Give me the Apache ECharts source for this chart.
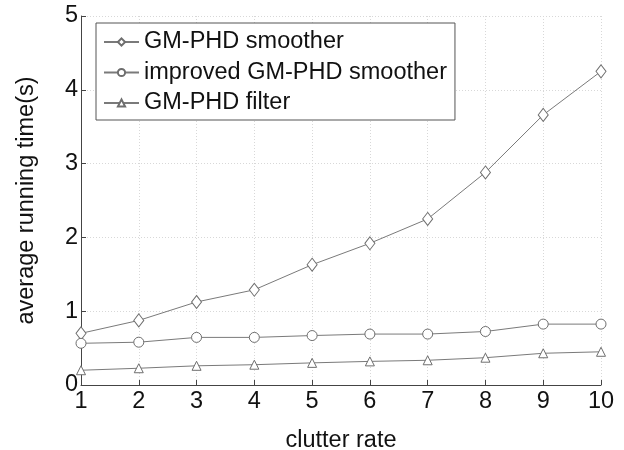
<!DOCTYPE html>
<html>
<head>
<meta charset="utf-8">
<script src="https://cdn.jsdelivr.net/npm/echarts@6/dist/echarts.min.js"></script>
<style>html,body{margin:0;padding:0;background:#fff}#c{width:624px;height:450px}</style>
</head>
<body>
<div id="c"></div>
<script>
var clutterRate = [1, 2, 3, 4, 5, 6, 7, 8, 9, 10];
var gmphdSmoother = [0.70, 0.875, 1.125, 1.29, 1.63, 1.92, 2.25, 2.88, 3.66, 4.25];
var improvedSmoother = [0.565, 0.58, 0.645, 0.645, 0.67, 0.69, 0.69, 0.725, 0.825, 0.825];
var gmphdFilter = [0.20, 0.227, 0.26, 0.275, 0.30, 0.32, 0.335, 0.37, 0.43, 0.45];
var seriesNames = ['GM-PHD smoother', 'improved GM-PHD smoother', 'GM-PHD filter'];

function pairs(ys) { return clutterRate.map(function (x, i) { return [x, ys[i]]; }); }

var FONT = '"Liberation Sans", Arial, sans-serif';
var lineColor = '#7a7a7a';
function mk(name, data, symbol, size) {
  return {
    name: name, type: 'line', data: pairs(data),
    symbol: symbol, symbolSize: size, showSymbol: true,
    lineStyle: { color: lineColor, width: 1 },
    itemStyle: { color: '#ffffff', borderColor: '#6e6e6e', borderWidth: 1 },
    emphasis: { disabled: true }
  };
}

var chart = echarts.init(document.getElementById('c'), null, { renderer: 'canvas' });
chart.setOption({
  animation: false,
  backgroundColor: '#ffffff',
  textStyle: { fontFamily: FONT },
  grid: { left: 81, right: 23, top: 16, bottom: 65, containLabel: false, outerBoundsMode: 'none' },
  legend: {
    orient: 'vertical', left: 96, top: 23,
    padding: [7, 8, 5, 7],
    backgroundColor: '#ffffff',
    borderColor: '#555555', borderWidth: 1, borderRadius: 0,
    itemWidth: 35, itemHeight: 9, itemGap: 6.5,
    textStyle: { fontFamily: FONT, fontSize: 23.5, color: '#111111', lineHeight: 24, padding: [0, 0, 0, 0] },
    data: seriesNames
  },
  xAxis: {
    type: 'value', min: 1, max: 10, interval: 1,
    name: 'clutter rate', nameLocation: 'middle', nameGap: 44,
    nameTextStyle: { fontFamily: FONT, fontSize: 23.5, color: '#111111' },
    axisLine: { show: true, lineStyle: { color: '#444444', width: 1 } },
    axisTick: { show: true, inside: true, length: 5, lineStyle: { color: '#444444' } },
    axisLabel: { fontFamily: FONT, fontSize: 23.5, color: '#111111', margin: 5 },
    splitLine: { show: true, lineStyle: { color: '#d8d8d8', type: [1, 2], width: 1 } }
  },
  yAxis: {
    type: 'value', min: 0, max: 5, interval: 1,
    name: 'average running time(s)', nameLocation: 'middle', nameGap: 42,
    nameTextStyle: { fontFamily: FONT, fontSize: 23.5, color: '#111111' },
    axisLine: { show: true, lineStyle: { color: '#444444', width: 1 } },
    axisTick: { show: true, inside: true, length: 5, lineStyle: { color: '#444444' } },
    axisLabel: { fontFamily: FONT, fontSize: 23.5, color: '#111111', margin: 3 },
    splitLine: { show: true, lineStyle: { color: '#d8d8d8', type: [1, 2], width: 1 } }
  },
  series: [
    mk(seriesNames[0], gmphdSmoother, 'diamond', [10, 13]),
    mk(seriesNames[1], improvedSmoother, 'circle', 10),
    mk(seriesNames[2], gmphdFilter, 'triangle', 9)
  ]
});
</script>
</body>
</html>
